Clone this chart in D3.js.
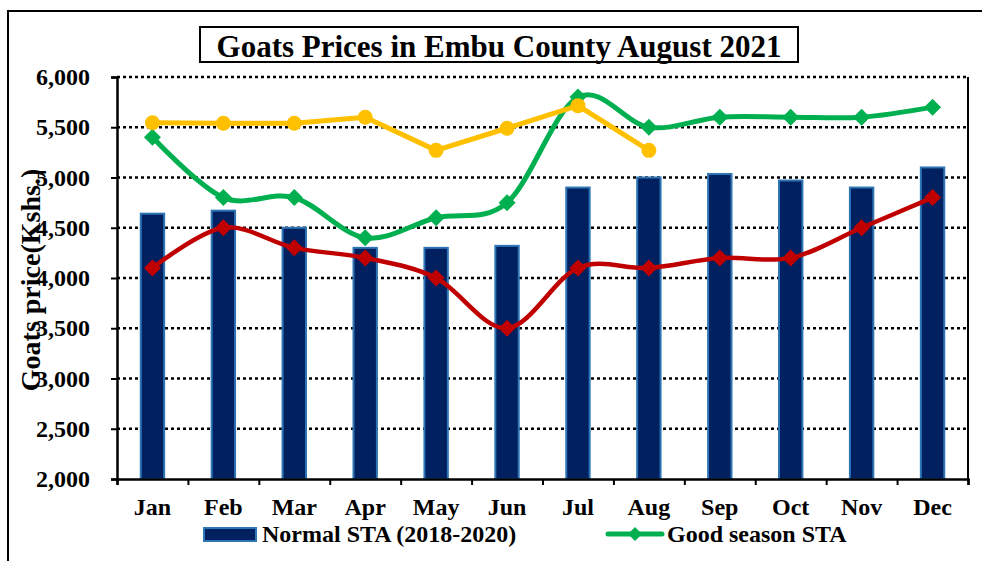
<!DOCTYPE html>
<html>
<head>
<meta charset="utf-8">
<script src="https://cdn.jsdelivr.net/npm/d3@7"></script>
<style>
  html, body { margin: 0; padding: 0; background: #fff; }
  svg { display: block; }
  text { font-family: "Liberation Serif", "Times New Roman", serif; font-weight: bold; fill: #000; }
</style>
</head>
<body>
<svg id="chart" width="982" height="561"></svg>
<script>
// Goat prices (Kshs) per month, Embu County
const months = ["Jan", "Feb", "Mar", "Apr", "May", "Jun", "Jul", "Aug", "Sep", "Oct", "Nov", "Dec"];
const normalSTA = [4640, 4670, 4500, 4300, 4300, 4320, 4900, 5000, 5035, 4970, 4900, 5100];
const goodSeasonSTA = [5400, 4800, 4800, 4400, 4600, 4750, 5800, 5500, 5600, 5600, 5600, 5700];
const badSeasonSTA = [4100, 4500, 4300, 4200, 4000, 3500, 4100, 4100, 4200, 4200, 4500, 4800];
const prices2021 = [5545, 5540, 5540, 5600, 5270, 5490, 5715, 5270];
const yTicks = [2000, 2500, 3000, 3500, 4000, 4500, 5000, 5500, 6000];

const svg = d3.select("#chart");

const plot = { left: 117, right: 968, top: 77, bottom: 479 };

const x = d3.scaleBand().domain(months).range([plot.left, plot.right]).paddingInner(0).paddingOuter(0);
const cx = m => x(m) + x.bandwidth() / 2;
const y = d3.scaleLinear().domain([2000, 6000]).range([plot.bottom, plot.top]);
const edges = d3.scaleLinear().domain([0, months.length]).range([plot.left, plot.right]);

// Outer frame
svg.append("rect")
  .attr("x", 8).attr("y", 11).attr("width", 1000).attr("height", 600)
  .attr("fill", "none").attr("stroke", "#000").attr("stroke-width", 2);

// Dotted horizontal gridlines
svg.append("g").selectAll("line")
  .data(yTicks.filter(t => t > 2000))
  .join("line")
  .attr("x1", plot.left).attr("x2", plot.right)
  .attr("y1", d => y(d)).attr("y2", d => y(d))
  .attr("stroke", "#000").attr("stroke-width", 2.5)
  .attr("stroke-dasharray", "3,3");

// Right border of the plot
svg.append("line")
  .attr("x1", plot.right).attr("x2", plot.right)
  .attr("y1", plot.top).attr("y2", plot.bottom)
  .attr("stroke", "#000").attr("stroke-width", 2);

// Bars: normal STA
const barW = x.bandwidth() * 0.33;
svg.append("g").selectAll("rect")
  .data(months.map((m, i) => ({ m, v: normalSTA[i] })))
  .join("rect")
  .attr("x", d => cx(d.m) - barW / 2)
  .attr("y", d => y(d.v))
  .attr("width", barW)
  .attr("height", d => y(2000) - y(d.v))
  .attr("fill", "#002060")
  .attr("stroke", "#2E75B6")
  .attr("stroke-width", 2);

// Y axis
const yAxis = svg.append("g")
  .attr("transform", `translate(${plot.left},0)`)
  .call(d3.axisLeft(y).tickValues(yTicks).tickSize(6).tickPadding(21).tickFormat(d3.format(",")));
yAxis.select(".domain").attr("stroke", "#000").attr("stroke-width", 2.5);
yAxis.selectAll(".tick line").attr("stroke", "#000").attr("stroke-width", 2);
yAxis.selectAll(".tick text").style("font-size", "24px").style("font-family", "'Liberation Serif', serif").style("font-weight", "bold");

// X axis: boundary tick marks
const xEdges = svg.append("g")
  .attr("transform", `translate(0,${plot.bottom})`)
  .call(d3.axisBottom(edges).tickValues(d3.range(months.length + 1)).tickSize(6).tickFormat(""));
xEdges.select(".domain").attr("stroke", "#000").attr("stroke-width", 2.5);
xEdges.selectAll(".tick line").attr("stroke", "#000").attr("stroke-width", 2);

// X axis: month labels
const xLabels = svg.append("g")
  .attr("transform", `translate(0,${plot.bottom})`)
  .call(d3.axisBottom(x).tickSize(0));
xLabels.select(".domain").remove();
xLabels.selectAll(".tick text")
  .attr("y", 36).attr("dy", null)
  .style("font-size", "24px").style("font-family", "'Liberation Serif', serif").style("font-weight", "bold");

// Lines
const smooth = d3.line().x(d => cx(d.m)).y(d => y(d.v)).curve(d3.curveCatmullRom.alpha(0));
const straight = d3.line().x(d => cx(d.m)).y(d => y(d.v));
const diamond = r => `M0,${-r}L${r},0L0,${r}L${-r},0Z`;

function series(vals, lineGen, color, width, marker) {
  const data = vals.map((v, i) => ({ m: months[i], v }));
  const g = svg.append("g");
  g.append("path").attr("d", lineGen(data))
    .attr("fill", "none").attr("stroke", color).attr("stroke-width", width)
    .attr("stroke-linejoin", "round").attr("stroke-linecap", "round");
  if (marker === "circle") {
    g.selectAll("circle").data(data).join("circle")
      .attr("cx", d => cx(d.m)).attr("cy", d => y(d.v)).attr("r", 7.5)
      .attr("fill", color);
  } else {
    g.selectAll("path.mk").data(data).join("path").attr("class", "mk")
      .attr("transform", d => `translate(${cx(d.m)},${y(d.v)})`)
      .attr("d", diamond(8.5)).attr("fill", color);
  }
}

series(badSeasonSTA, smooth, "#C00000", 4.5, "diamond");
series(goodSeasonSTA, smooth, "#00B050", 5, "diamond");
series(prices2021, straight, "#FFC000", 5, "circle");

// Title box
svg.append("rect")
  .attr("x", 200).attr("y", 27).attr("width", 598).attr("height", 35)
  .attr("fill", "#fff").attr("stroke", "#000").attr("stroke-width", 2);
svg.append("text")
  .attr("x", 499).attr("y", 57).attr("text-anchor", "middle")
  .style("font-size", "31px")
  .text("Goats Prices in Embu County August 2021");

// Y axis title
svg.append("text")
  .attr("transform", "translate(40,280) rotate(-90)")
  .attr("text-anchor", "middle")
  .style("font-size", "28px")
  .text("Goats price(Kshs.)");

// Legend
const legend = svg.append("g");
legend.append("rect")
  .attr("x", 204).attr("y", 528).attr("width", 52).attr("height", 13)
  .attr("fill", "#002060").attr("stroke", "#2E75B6").attr("stroke-width", 2);
legend.append("text").attr("x", 262).attr("y", 542).style("font-size", "24px")
  .text("Normal STA (2018-2020)");
legend.append("line")
  .attr("x1", 608).attr("x2", 662).attr("y1", 534).attr("y2", 534)
  .attr("stroke", "#00B050").attr("stroke-width", 5).attr("stroke-linecap", "round");
legend.append("path")
  .attr("transform", "translate(635,534)")
  .attr("d", diamond(7)).attr("fill", "#00B050");
legend.append("text").attr("x", 667).attr("y", 542).style("font-size", "24px")
  .text("Good season STA");
</script>
</body>
</html>
